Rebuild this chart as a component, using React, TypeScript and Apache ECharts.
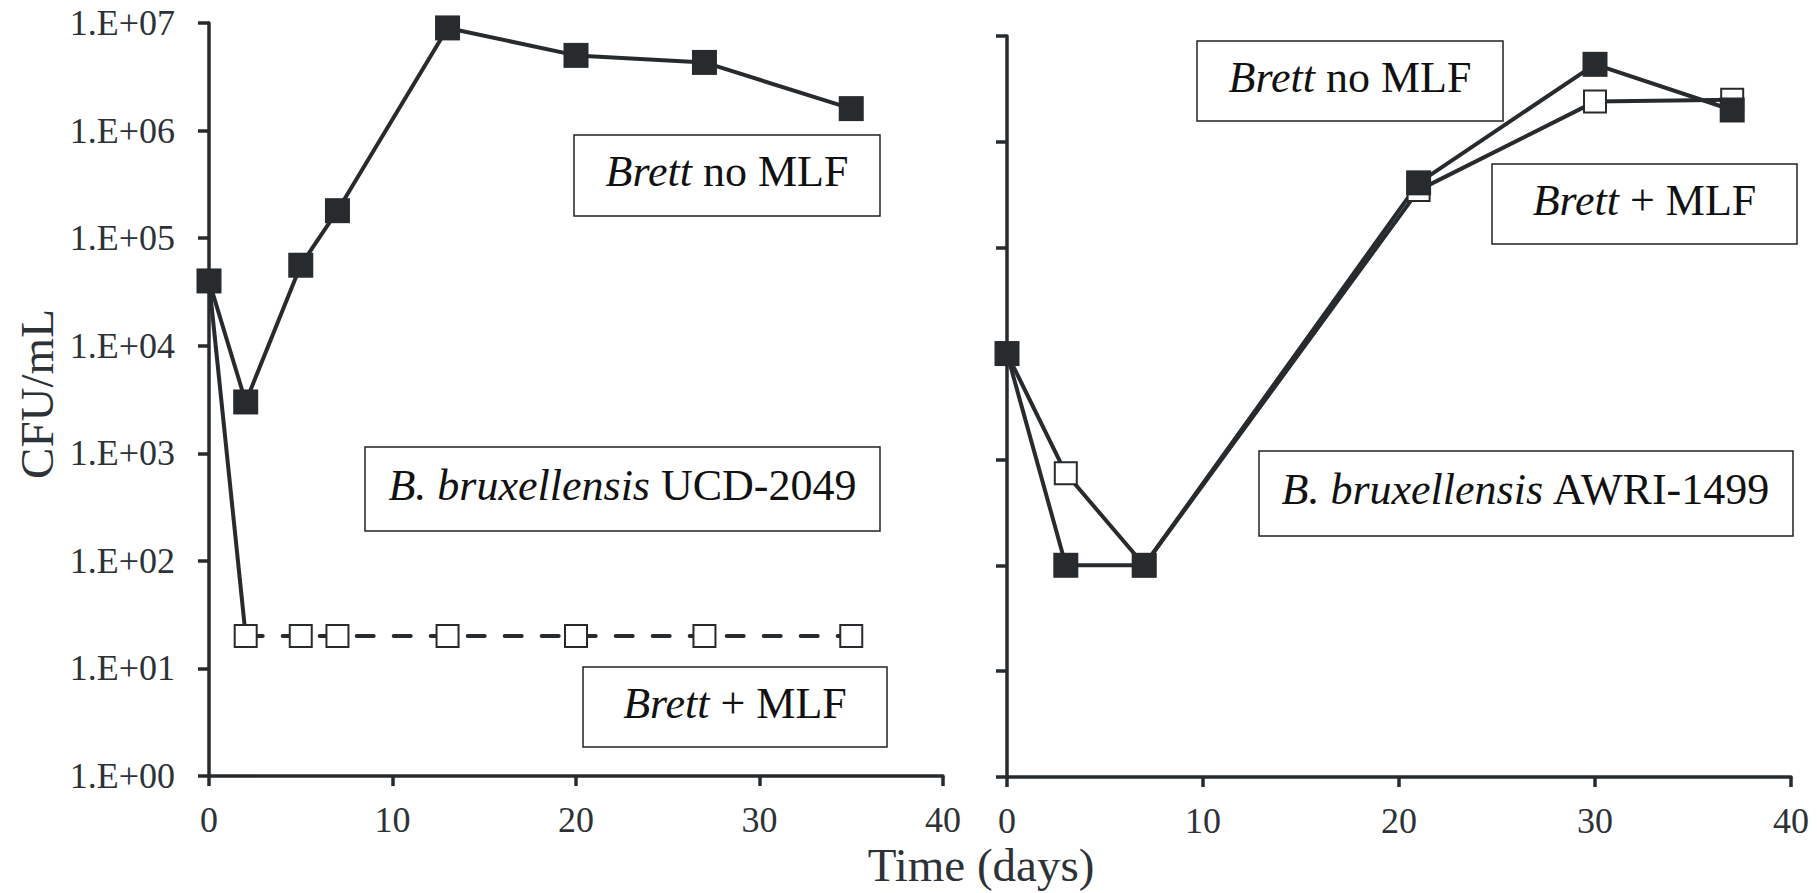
import React, { useEffect, useRef } from "react";
import * as echarts from "echarts";

// ---- Data ----
const ucdDays = [0, 2, 5, 7, 13, 20, 27, 35];
const ucdNoMLF = [4e4, 3e3, 5.6e4, 1.8e5, 9e6, 5e6, 4.3e6, 1.6e6];
const ucdMLF = [4e4, 20, 20, 20, 20, 20, 20, 20];

const awriDays = [0, 3, 7, 21, 30, 37];
const awriNoMLF = [1e4, 100, 100, 4.1e5, 5.4e6, 2.0e6];
const awriMLF = [1e4, 740, 100, 3.5e5, 2.4e6, 2.5e6];

const yTickLabels = ["1.E+00", "1.E+01", "1.E+02", "1.E+03", "1.E+04", "1.E+05", "1.E+06", "1.E+07"];
const xAxisName = "Time (days)";
const yAxisName = "CFU/mL";
const boxLabels = [
  "{i|Brett}{n| no MLF}",
  "{i|B. bruxellensis}{n| UCD-2049}",
  "{i|Brett}{n| + MLF}",
  "{i|Brett}{n| no MLF}",
  "{i|Brett}{n| + MLF}",
  "{i|B. bruxellensis}{n| AWRI-1499}",
];

const DARK = "#272b2e";
const FONT = "Liberation Serif";

const pairs = (xs: number[], ys: number[]) => xs.map((x, i) => [x, ys[i]]);

export default function App() {
  const ref = useRef<HTMLDivElement>(null);
  useEffect(() => {
    if (!ref.current) return;
    const chart = echarts.init(ref.current, null, { renderer: "svg" });

    const xAxisCommon = (gridIndex: number) => ({
      type: "value",
      gridIndex,
      min: 0,
      max: 40,
      interval: 10,
      axisLine: { show: true, lineStyle: { color: DARK, width: 3.5 } },
      axisTick: { show: true, length: 10, lineStyle: { color: DARK, width: 3.5 } },
      axisLabel: { show: true, margin: 26, color: "#2d3236", fontFamily: FONT, fontSize: 36 },
      splitLine: { show: false },
    });
    const yAxisCommon = (gridIndex: number, showLabel: boolean) => ({
      type: "log",
      logBase: 10,
      gridIndex,
      min: 1,
      max: 1e7,
      splitNumber: 7,
      axisLine: { show: true, lineStyle: { color: DARK, width: 3.5 } },
      axisTick: { show: true, length: 11, lineStyle: { color: DARK, width: 3.5 } },
      axisLabel: {
        show: showLabel,
        margin: 34,
        color: "#2d3236",
        fontFamily: FONT,
        fontSize: 36,
        formatter: (v: number) => yTickLabels[Math.round(Math.log10(v))] ?? "",
      },
      splitLine: { show: false },
      minorTick: { show: false },
    });

    const lineStyle = { color: DARK, width: 4 };
    const filledSym = {
      symbol: "rect",
      symbolSize: 25,
      itemStyle: { color: DARK, borderWidth: 0 },
    };
    const openSym = {
      symbol: "rect",
      symbolSize: 22,
      itemStyle: { color: "#ffffff", borderColor: DARK, borderWidth: 2 },
    };

    const boxes = [
      { x: 574, y: 135, w: 306, h: 81 },
      { x: 365, y: 447, w: 515, h: 84 },
      { x: 583, y: 667, w: 304, h: 80 },
      { x: 1197, y: 41, w: 306, h: 80 },
      { x: 1492, y: 164, w: 305, h: 80 },
      { x: 1259, y: 451, w: 534, h: 85 },
    ];
    const graphics: any[] = [];
    boxes.forEach((b, i) => {
      graphics.push({
        type: "rect",
        shape: { x: b.x, y: b.y, width: b.w, height: b.h },
        style: { fill: "#fff", stroke: "#222", lineWidth: 1.5 },
        z: 10,
      });
      graphics.push({
        type: "text",
        x: b.x + b.w / 2,
        y: b.y + b.h / 2 - 4,
        z: 11,
        style: {
          text: boxLabels[i],
          font: "44px 'Liberation Serif'",
          fontFamily: FONT,
          fontSize: 44,
          fill: "#111",
          align: "center",
          verticalAlign: "middle",
          rich: {
            i: { fontStyle: "italic", fontFamily: FONT, fontSize: 44, fill: "#111" },
            n: { fontStyle: "normal", fontFamily: FONT, fontSize: 44, fill: "#111" },
          },
        },
      });
    });
    graphics.push({
      type: "text",
      x: 37,
      y: 394,
      rotation: Math.PI / 2,
      style: {
        text: yAxisName,
        fontFamily: FONT,
        fontSize: 47,
        fill: "#2d3236",
        align: "center",
        verticalAlign: "middle",
      },
    });
    graphics.push({
      type: "text",
      x: 981,
      y: 865,
      style: {
        text: xAxisName,
        fontFamily: FONT,
        fontSize: 47,
        fill: "#2d3236",
        align: "center",
        verticalAlign: "middle",
      },
    });

    chart.setOption({
      animation: false,
      backgroundColor: "#ffffff",
      textStyle: { fontFamily: FONT },
      grid: [
        { left: 209, top: 23, width: 734, height: 753, containLabel: false, outerBoundsMode: "none" },
        { left: 1007, top: 36, width: 784, height: 741, containLabel: false, outerBoundsMode: "none" },
      ],
      xAxis: [xAxisCommon(0), xAxisCommon(1)],
      yAxis: [yAxisCommon(0, true), yAxisCommon(1, false)],
      series: [
        {
          type: "line",
          name: "UCD Brett + MLF (drop)",
          xAxisIndex: 0,
          yAxisIndex: 0,
          data: pairs(ucdDays.slice(0, 2), ucdMLF.slice(0, 2)),
          showSymbol: false,
          symbol: "none",
          lineStyle: { ...lineStyle },
          clip: false,
        },
        {
          type: "line",
          name: "UCD Brett + MLF",
          xAxisIndex: 0,
          yAxisIndex: 0,
          data: pairs(ucdDays.slice(1), ucdMLF.slice(1)),
          ...openSym,
          lineStyle: { ...lineStyle, type: [17, 20], cap: "round" },
          clip: false,
        },
        {
          type: "line",
          name: "UCD Brett no MLF",
          xAxisIndex: 0,
          yAxisIndex: 0,
          data: pairs(ucdDays, ucdNoMLF),
          ...filledSym,
          lineStyle: { ...lineStyle },
          clip: false,
        },
        {
          type: "line",
          name: "AWRI Brett + MLF",
          xAxisIndex: 1,
          yAxisIndex: 1,
          data: pairs(awriDays, awriMLF),
          ...openSym,
          lineStyle: { ...lineStyle },
          clip: false,
        },
        {
          type: "line",
          name: "AWRI Brett no MLF",
          xAxisIndex: 1,
          yAxisIndex: 1,
          data: pairs(awriDays, awriNoMLF),
          ...filledSym,
          lineStyle: { ...lineStyle },
          clip: false,
        },
      ],
      graphic: graphics,
    });

    return () => {
      chart.dispose();
    };
  }, []);

  return (
    <div
      ref={ref}
      style={{ position: "fixed", left: 0, top: 0, width: 1817, height: 893, background: "#fff" }}
    />
  );
}
